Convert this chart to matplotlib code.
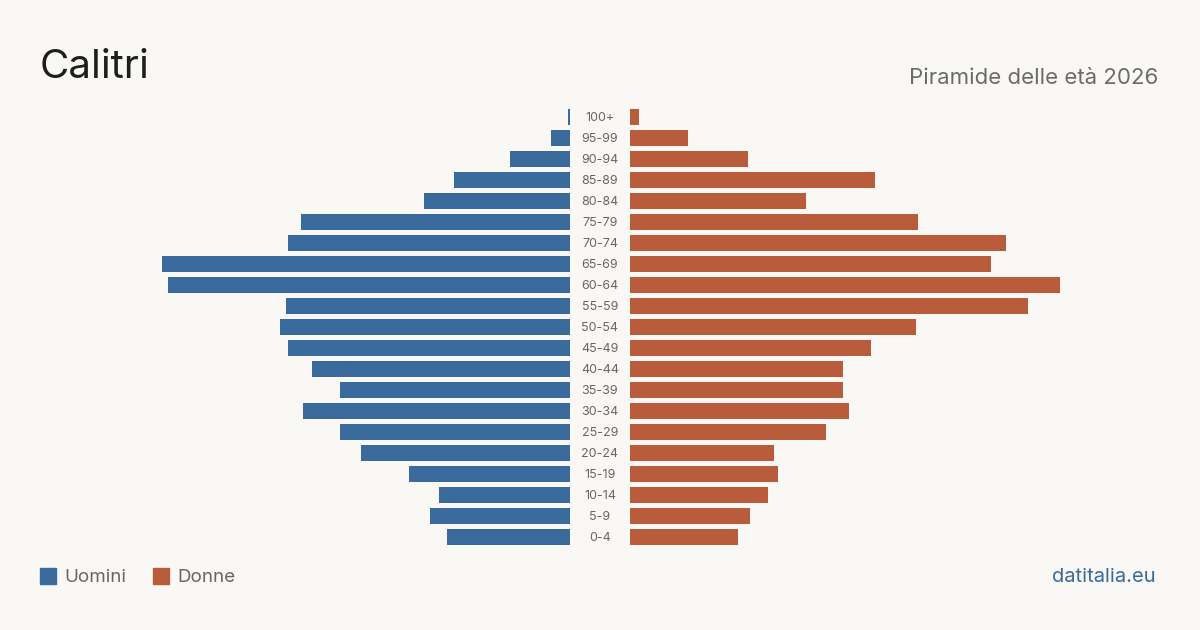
import matplotlib
matplotlib.use('Agg')
import matplotlib.pyplot as plt
from matplotlib.patches import Rectangle

plt.rcParams['font.family'] = ['Inter', 'DejaVu Sans']

ages = ['0-4', '5-9', '10-14', '15-19', '20-24', '25-29', '30-34', '35-39',
        '40-44', '45-49', '50-54', '55-59', '60-64', '65-69', '70-74',
        '75-79', '80-84', '85-89', '90-94', '95-99', '100+']
uomini = [123, 140, 131, 161, 209, 230, 267, 230, 258, 282, 290, 284,
          402, 408, 282, 269, 146, 116, 60, 19, 2]
donne = [108, 120, 138, 148, 144, 196, 219, 213, 213, 241, 286, 398,
         430, 361, 376, 288, 176, 245, 118, 58, 9]

bg = '#f9f8f4'
blue = '#3b6b9c'
orange = '#b95c3c'

W, H = 1200, 630
fig = plt.figure(figsize=(12, 6.3), dpi=100, facecolor=bg)

bottom = (H - 547.5) / H
height = (547.5 - 106.5) / H
span = 450

axl = fig.add_axes([(570 - span) / W, bottom, span / W, height])
axr = fig.add_axes([630 / W, bottom, span / W, height])

y = list(range(len(ages)))
axl.barh(y, uomini, height=0.8, color=blue)
axr.barh(y, donne, height=0.8, color=orange)
axl.set_xlim(span, 0)
axr.set_xlim(0, span)
for ax in (axl, axr):
    ax.set_ylim(-0.5, len(ages) - 0.5)
    ax.axis('off')

for i, a in enumerate(ages):
    fig.text(600 / W, (H - (538 - 21 * i)) / H, a, ha='center', va='center',
             fontsize=9, color='#666666')

fig.text(40 / W, (H - 68) / H, 'Calitri', fontsize=29, color='#1e1e1e',
         ha='left', va='center')
fig.text(1158 / W, (H - 78) / H, 'Piramide delle età 2026', fontsize=16,
         color='#6b6b6b', ha='right', va='center')

fig.patches.append(Rectangle((40 / W, (H - 584) / H), 16 / W, 16 / H,
                             transform=fig.transFigure, color=blue))
fig.text(64 / W, (H - 577.5) / H, 'Uomini', fontsize=13.5, color='#666666',
         ha='left', va='center')
fig.patches.append(Rectangle((153 / W, (H - 584) / H), 16 / W, 16 / H,
                             transform=fig.transFigure, color=orange))
fig.text(177 / W, (H - 577.5) / H, 'Donne', fontsize=13.5, color='#666666',
         ha='left', va='center')
fig.text(1156 / W, (H - 577.5) / H, 'datitalia.eu', fontsize=14.5, color=blue,
         ha='right', va='center')

fig.savefig('out.png', dpi=100, facecolor=bg)
